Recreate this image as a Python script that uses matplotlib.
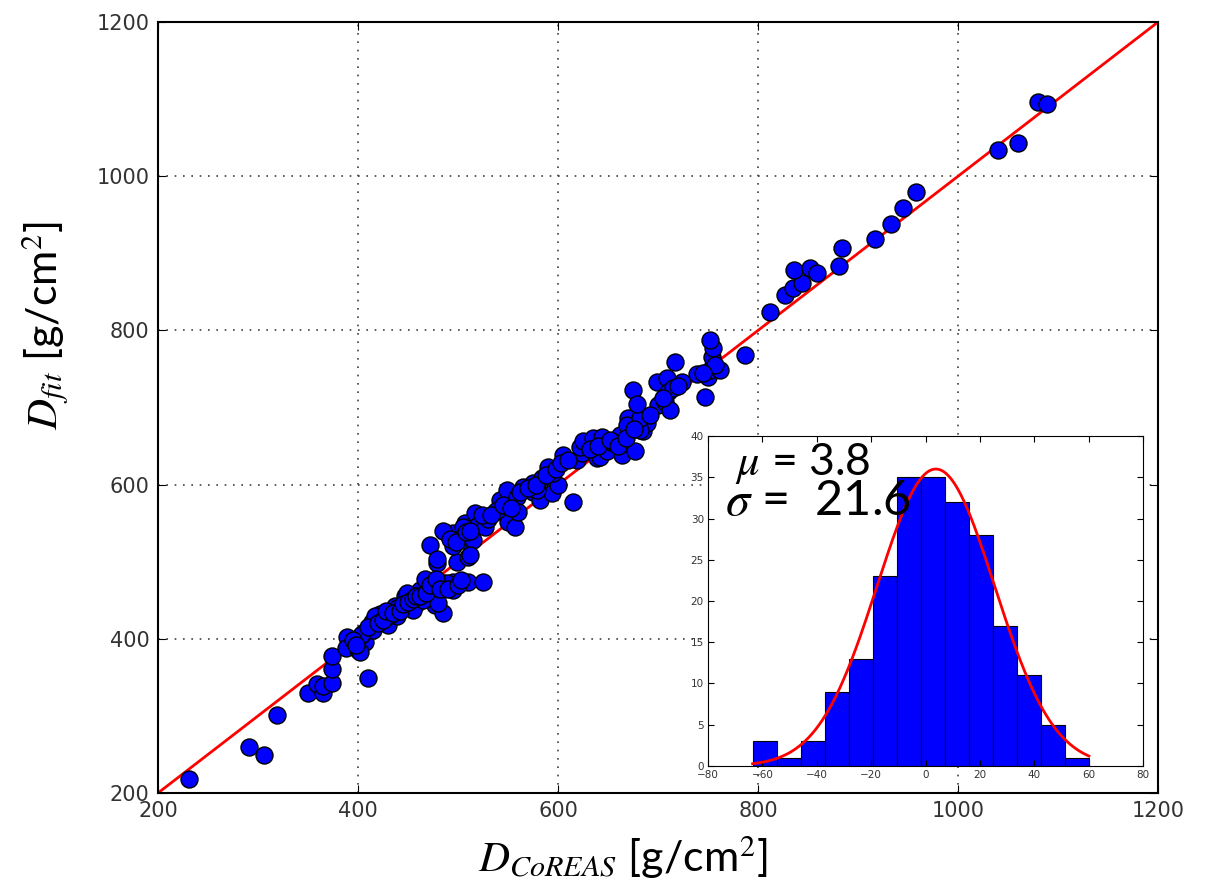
import numpy as np
import matplotlib
matplotlib.use('Agg')
import matplotlib.pyplot as plt

# scatter: D_CoREAS vs D_fit  [g/cm^2]
d_coreas = [231, 291, 306, 319, 350, 359, 365, 365, 374, 374, 374, 410, 389, 388, 400,
            407, 405, 414, 422, 415, 430, 439, 437, 452, 459, 477, 485, 402, 403, 417,
            432, 439, 447, 455, 462, 465, 470, 475, 480, 485, 495, 495, 510, 525, 479,
            499, 449, 467, 475, 489, 472, 479, 495, 510, 489, 495, 507, 504, 515, 517,
            520, 527, 530, 537, 542, 549, 549, 550, 557, 559, 565, 575, 575, 582, 584,
            590, 594, 600, 605, 615, 619, 624, 639, 505, 512, 539, 560, 579, 595, 622,
            625, 635, 644, 642, 649, 655, 664, 677, 662, 672, 685, 689, 670, 669, 682,
            682, 675, 679, 700, 707, 712, 699, 709, 710, 715, 724, 717, 739, 747, 750,
            752, 754, 755, 752, 762, 757, 787, 812, 827, 835, 844, 836, 852, 859, 881,
            884, 917, 933, 945, 958, 1040, 1060, 1080, 1089,
            395, 398, 410, 420, 425, 428, 435, 442, 445, 450, 455, 458, 462, 468, 472,
            478, 482, 490, 500, 503, 485, 492, 498, 508, 512, 524, 533, 545, 553, 562,
            570, 578, 588, 598, 603, 610, 632, 640, 652, 660, 668, 676, 692, 705, 720, 745]
d_fit = [218, 260, 249, 301, 330, 341, 330, 339, 343, 361, 378, 349, 402, 388, 385,
         396, 408, 422, 432, 411, 418, 429, 442, 440, 446, 444, 434, 383, 405, 429,
         431, 440, 455, 437, 463, 450, 474, 463, 446, 472, 474, 463, 474, 474, 498,
         500, 459, 478, 468, 472, 522, 504, 520, 506, 537, 537, 550, 528, 528, 563,
         548, 545, 556, 565, 580, 565, 593, 552, 545, 584, 597, 602, 591, 580, 608,
         623, 589, 599, 638, 578, 632, 641, 634, 545, 509, 567, 565, 593, 615, 649,
         656, 660, 662, 636, 643, 654, 638, 643, 664, 682, 669, 680, 686, 677, 671,
         686, 723, 705, 703, 707, 697, 733, 738, 720, 725, 733, 759, 744, 714, 740,
         749, 766, 777, 788, 749, 755, 768, 824, 846, 855, 862, 878, 881, 875, 884,
         907, 919, 938, 959, 980, 1034, 1043, 1096, 1094,
         398, 392, 415, 420, 425, 436, 433, 436, 445, 448, 452, 456, 455, 460, 470,
         478, 465, 465, 470, 476, 540, 530, 525, 538, 540, 560, 560, 574, 570, 590,
         595, 600, 612, 620, 628, 632, 646, 650, 658, 650, 660, 672, 690, 712, 728, 745]

# histogram of residuals
bin_lo, bin_hi = -63.6, 60.1
counts = [3, 1, 3, 9, 13, 23, 35, 35, 32, 28, 17, 11, 5, 1]
mu, sigma = 3.8, 21.6

plt.rcParams['mathtext.fontset'] = 'stix'
plt.rcParams['font.family'] = ['DejaVu Sans']

fig = plt.figure(figsize=(12.23, 8.88), dpi=100, facecolor='white')
ax = fig.add_axes([0.1292, 0.107, 0.8177, 0.8682])
ax.plot([200, 1200], [200, 1200], color='red', lw=2, zorder=2)
ax.scatter(d_coreas, d_fit, s=150, c='blue', edgecolors='black', linewidths=1, zorder=3)
ax.set_xlim(200, 1200)
ax.set_ylim(200, 1200)
ax.set_xticks(range(200, 1201, 200))
ax.set_yticks(range(200, 1201, 200))
ax.grid(True, color='0.25', linestyle=(0, (1, 4)), linewidth=1.2)
ax.tick_params(direction='in', top=True, right=True, length=6, labelsize=15, pad=6,
               labelcolor='0.2')
for sp in ax.spines.values():
    sp.set_linewidth(1.5)

fig.text(0.509, 0.034, r'$D_{CoREAS}$ [g/cm$^2$]', fontsize=31, ha='center', va='center',
         family='Lato')
fig.text(0.037, 0.634, r'$D_{fit}$ [g/cm$^2$]', fontsize=31, ha='center', va='center',
         rotation=90, family='Lato')

# inset
ins = fig.add_axes([0.5789, 0.1374, 0.3557, 0.3716])
ins.set_facecolor('white')
edges = np.linspace(bin_lo, bin_hi, len(counts) + 1)
ins.bar(edges[:-1], counts, width=np.diff(edges), align='edge', color='blue',
        edgecolor='black', linewidth=0.8)
xg = np.linspace(bin_lo, bin_hi, 300)
amp = 36.0
ins.plot(xg, amp * np.exp(-0.5 * ((xg - mu) / sigma) ** 2), color='red', lw=2)
ins.set_xlim(-80, 80)
ins.set_ylim(0, 40)
ins.set_xticks(range(-80, 81, 20))
ins.set_yticks(range(0, 41, 5))
ins.tick_params(direction='in', top=True, right=True, length=4, labelsize=7.5, pad=3,
                labelcolor='0.2')
ins.text(-70, 35.3, r'$\mu$ = 3.8', fontsize=32, va='baseline', family='Lato')
ins.text(-73.7, 30.4, r'$\sigma$ =  21.6', fontsize=35, va='baseline', family='Lato')

fig.savefig('out.png', dpi=100, facecolor='white')
